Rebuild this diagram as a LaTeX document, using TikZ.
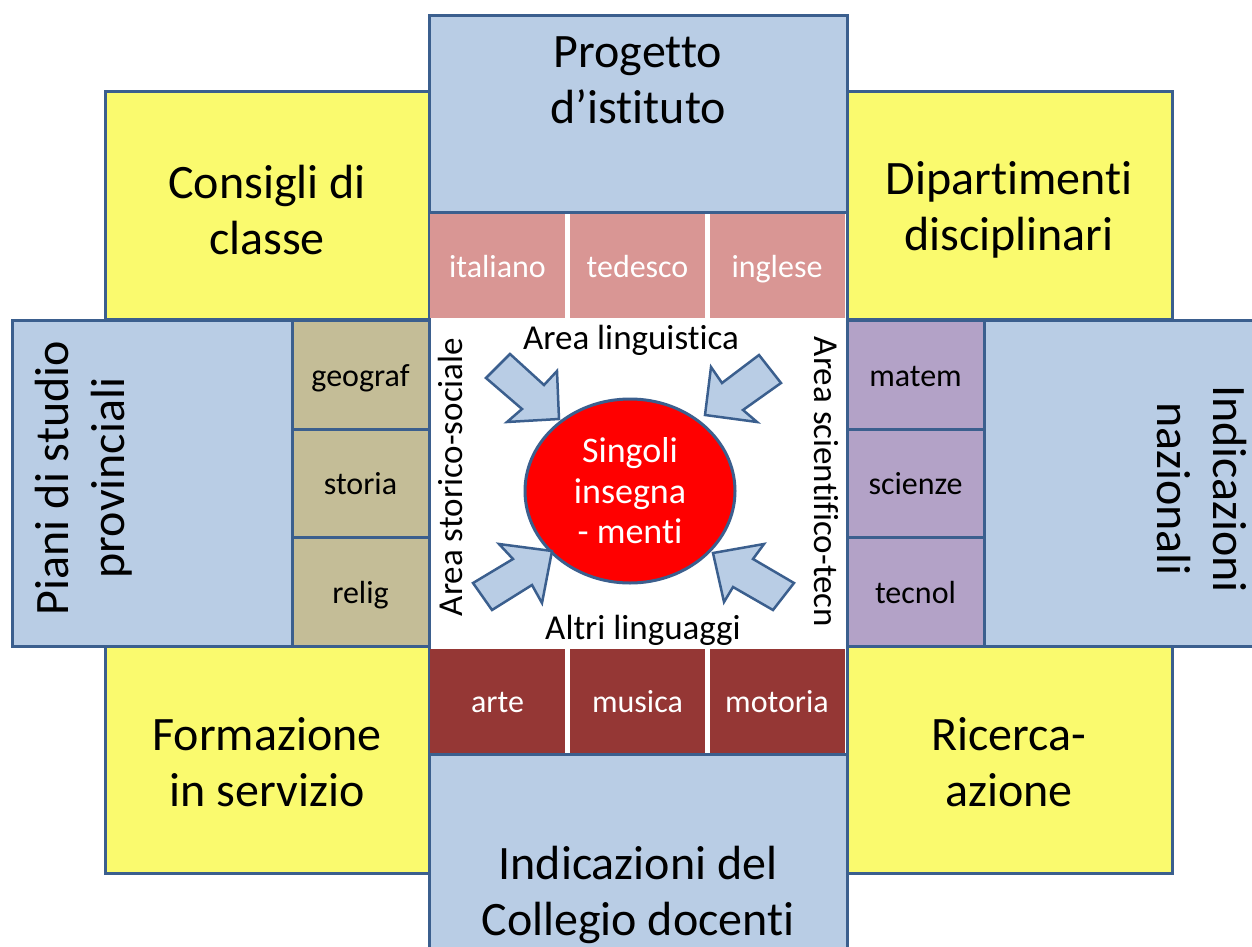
\documentclass[tikz,border=0pt]{standalone}
\usepackage{fontspec}
\setmainfont[Ligatures={NoCommon}]{Carlito}
\usetikzlibrary{shapes.geometric}
\definecolor{bordo}{HTML}{3B5F8E}
\definecolor{azzurro}{HTML}{B9CDE5}
\definecolor{giallino}{HTML}{FAFA6E}
\definecolor{rosa}{HTML}{D99694}
\definecolor{bordeaux}{HTML}{953735}
\definecolor{sabbia}{HTML}{C4BD97}
\definecolor{lilla}{HTML}{B3A2C7}
\tikzset{
  cornice/.style={draw=bordo,line width=3pt},
  blu/.style={cornice,fill=azzurro},
  giallo/.style={cornice,fill=giallino},
  grande/.style={font=\fontsize{48}{56}\selectfont,align=center},
  area/.style={font=\fontsize{35}{40}\selectfont},
  cella/.style={minimum width=135,minimum height=104,inner sep=0,text height=26,text depth=4,
    font=\fontsize{32}{36}\selectfont},
  casella/.style={cornice,minimum width=137,minimum height=108.5,inner sep=0,text height=26,text depth=4,
    font=\fontsize{32}{36}\selectfont},
  ellisse/.style={ellipse,cornice,fill=red,text=white,minimum width=210,minimum height=184,inner sep=0,
    align=center,font=\fontsize{36}{40.5}\selectfont},
  freccia/.style={draw=bordo,line width=2.5pt,line join=miter,fill=azzurro}
}
\begin{document}
\begin{tikzpicture}[x=1pt,y=-1pt]
\useasboundingbox (0,0) rectangle (1252,947);
\clip (0,0) rectangle (1252,947);
% riquadri gialli agli angoli
\foreach \xa in {105,847}
  \foreach \ya in {92,646}
    \draw[giallo] (\xa,\ya) rectangle +(325,227);
\draw[blu] (12,320) rectangle (292,646);
\draw[blu] (984,320) rectangle (1268,646);
\draw[cornice,fill=white] (429,212) rectangle (847,754);
\draw[blu] (429,16) rectangle (847,212);
\draw[blu] (429,754) rectangle (847,968);
% discipline
\foreach \nome/\testo/\ya in {geo/geograf/375, sto/storia/483.5, rel/relig/592}
  \node[casella,fill=sabbia] (\nome) at (360.5,\ya) {\testo};
\foreach \nome/\testo/\ya in {mat/matem/375, sci/scienze/483.5, tec/tecnol/592}
  \node[casella,fill=lilla] (\nome) at (915.5,\ya) {\testo};
\foreach \nome/\testo/\xa in {ita/italiano/497.5, ted/tedesco/637.5, ing/inglese/777}
  \node[cella,fill=rosa,text=white] (\nome) at (\xa,266) {\testo};
\foreach \nome/\testo/\xa in {art/arte/497.5, mus/musica/637.5, mot/motoria/777}
  \node[cella,fill=bordeaux,text=white] (\nome) at (\xa,701) {\testo};
\node[ellisse] (singoli) at (630,491) {Singoli\\insegna\\- menti};
% frecce verso il centro
\draw[freccia] (510,354) -- (544,385) -- (557,371) -- (559,419) -- (507,422) -- (522,409) -- (486,378) -- cycle;
\draw[freccia] (759,355) -- (781,383) -- (743,410) -- (757,422) -- (705,415) -- (711,367) -- (722,383) -- cycle;
\draw[freccia] (473,583) -- (513,559) -- (499,544) -- (552,551) -- (542,603) -- (532,585) -- (492,610) -- cycle;
\draw[freccia] (794,583) -- (753,559) -- (764,544) -- (713,553) -- (724,602) -- (733,587) -- (773,610) -- cycle;
% testi
\node[grande] (progetto) at (638,80) {Progetto\\d’istituto};
\node[grande] (consigli) at (267,210) {Consigli di\\classe};
\node[grande] (dipartimenti) at (1009,210) {Dipartimenti\\disciplinari};
\node[grande] (formazione) at (267,762) {Formazione\\in servizio};
\node[grande] (ricerca) at (1009,762) {Ricerca-\\azione};
\node[grande] (collegio) at (638,895) {Indicazioni del\\Collegio docenti};
\node[grande,rotate=90] (piani) at (84,478) {Piani di studio\\provinciali};
\node[grande,rotate=-90] (nazionali) at (1202,489) {Indicazioni\\nazionali};
\node[area] (linguistica) at (631,340) {Area linguistica};
\node[area] (linguaggi) at (643,630) {Altri linguaggi};
\node[area,rotate=90] (storico) at (450,477) {Area storico-sociale};
\node[area,rotate=-90] (scientifico) at (826,482) {Area scientifico-tecn};
\end{tikzpicture}
\end{document}
